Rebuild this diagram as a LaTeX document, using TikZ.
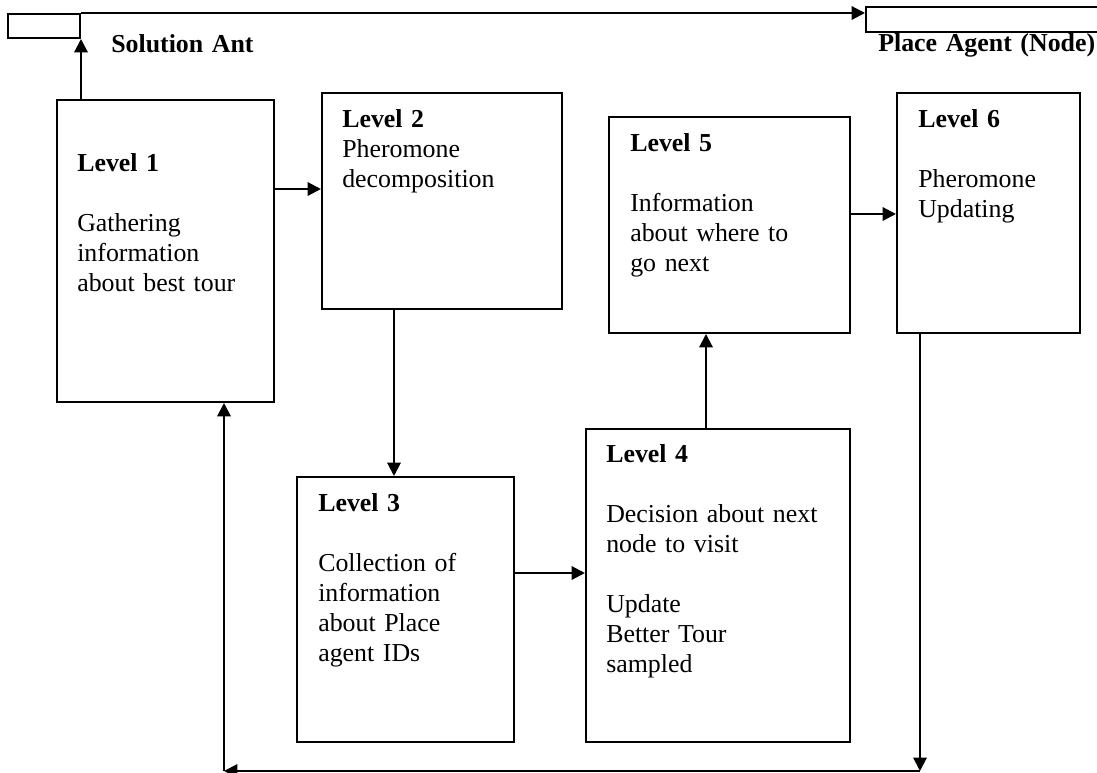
\documentclass[tikz,border=0pt]{standalone}
\usepackage{fontspec}
\setmainfont{Liberation Serif}
\usepackage{tikz}
\usetikzlibrary{arrows.meta,positioning}

\begin{document}
\begin{tikzpicture}[x=0.75pt, y=-0.75pt,
        box/.style={draw, line width=1.5pt, inner sep=0pt},
        txt/.style={anchor=base west, inner sep=0pt, text width=170pt, align=left,
            font=\fontsize{19.4}{22.5}\selectfont},
        arr/.style={line width=1.5pt, -{Triangle[length=10pt, width=10pt]}}]
        
        \useasboundingbox (0,0) rectangle (1097,773);
        \clip (0,0) rectangle (1097,773);
        
        % agents on top
        \node (sa) [box, minimum width=54pt, minimum height=18pt] at (44,26) {};
        \node (pa) [box, minimum width=183pt, minimum height=18.75pt] at (988,19.5) {};
        \node (satext) [txt, text width=120pt] at ([shift={(30,40)}]sa.north east) {\textbf{Solution Ant}};
        \node (patext) [txt, text width=170pt] at ([shift={(13,46)}]pa.north west) {\textbf{Place Agent (Node)}};
        
        % levels
        \node (l1) [box, minimum width=162.75pt, minimum height=226.5pt] at (165.5,251) {};
        \node (l2) [box, minimum width=180pt, minimum height=162pt] at (442,201) {};
        \node (l3) [box, minimum width=162.75pt, minimum height=198.75pt] at (405.5,609.5) {};
        \node (l4) [box, minimum width=198pt, minimum height=234.75pt] at (718,585.5) {};
        \node (l5) [box, minimum width=180.75pt, minimum height=162pt] at (729.5,225) {};
        \node (l6) [box, minimum width=137.25pt, minimum height=180pt] at (988.5,213) {};
        
        \node (t1) [txt] at ([shift={(21,73)}]l1.north west)
            {\textbf{Level 1}\\[22.5pt]Gathering\\information\\about best tour};
        \node (t2) [txt] at ([shift={(21,36)}]l2.north west)
            {\textbf{Level 2}\\Pheromone\\decomposition};
        \node (t3) [txt] at ([shift={(22,36)}]l3.north west)
            {\textbf{Level 3}\\[22.5pt]Collection of\\information\\about Place\\agent IDs};
        \node (t4) [txt] at ([shift={(21,35)}]l4.north west)
            {\textbf{Level 4}\\[22.5pt]Decision about next\\node to visit\\[22.5pt]Update\\Better Tour\\sampled};
        \node (t5) [txt] at ([shift={(22,36)}]l5.north west)
            {\textbf{Level 5}\\[22.5pt]Information\\about where to\\go next};
        \node (t6) [txt] at ([shift={(22,36)}]l6.north west)
            {\textbf{Level 6}\\[22.5pt]Pheromone\\Updating};
        
        \coordinate (cr) at (920,771);
        \coordinate (cl) at (224,771);
        
        \draw[arr] (sa.south east |- l1.north) -- (sa.south east);
        \draw[arr] (sa.north east) -- (pa.west |- sa.north east);
        \draw[arr] (l1.east |- 0,189) -- (l2.west |- 0,189);
        \draw[arr] (l2.south -| 394,0) -- (l3.north -| 394,0);
        \draw[arr] (l3.east |- 0,573) -- (l4.west |- 0,573);
        \draw[arr] (l4.north -| 706,0) -- (l5.south -| 706,0);
        \draw[arr] (l5.east |- 0,214) -- (l6.west |- 0,214);
        \draw[arr] (l6.south -| cr) -- (cr);
        \draw[arr] (cr) -- (cl);
        \draw[arr] (cl) -- (l1.south -| cl);
        
    \end{tikzpicture}
\end{document}
